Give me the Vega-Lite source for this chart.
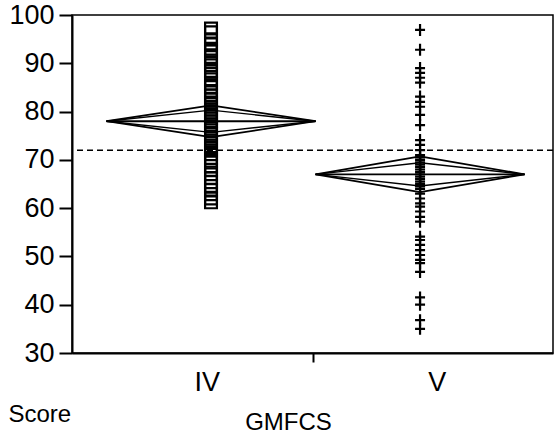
{
  "$schema": "https://vega.github.io/schema/vega-lite/v6.json",
  "width": 481,
  "height": 338,
  "autosize": "none",
  "padding": {"left": 72, "top": 15, "right": 2, "bottom": 82},
  "background": "white",
  "config": {
    "view": {"stroke": "#000", "strokeWidth": 1.5},
    "font": "Liberation Sans",
    "axis": {"grid": false, "domainColor": "#000", "domainWidth": 2, "tickColor": "#000", "tickWidth": 2, "labelColor": "#000", "titleColor": "#000", "labelFont": "Liberation Sans", "titleFont": "Liberation Sans", "titleFontWeight": "normal", "labelFontSize": 27, "titleFontSize": 24}
  },
  "datasets": {
    "points": [
      {"group": "IV", "score": 97.2}, {"group": "IV", "score": 96.4}, {"group": "IV", "score": 95.0}, {"group": "IV", "score": 94.1},
      {"group": "IV", "score": 93.0}, {"group": "IV", "score": 92.5}, {"group": "IV", "score": 91.3}, {"group": "IV", "score": 90.2},
      {"group": "IV", "score": 89.6}, {"group": "IV", "score": 88.4}, {"group": "IV", "score": 87.9}, {"group": "IV", "score": 86.7},
      {"group": "IV", "score": 85.8}, {"group": "IV", "score": 85.1}, {"group": "IV", "score": 84.0}, {"group": "IV", "score": 83.3},
      {"group": "IV", "score": 82.5}, {"group": "IV", "score": 81.9}, {"group": "IV", "score": 81.0}, {"group": "IV", "score": 80.4},
      {"group": "IV", "score": 79.8}, {"group": "IV", "score": 79.1}, {"group": "IV", "score": 78.6}, {"group": "IV", "score": 78.0},
      {"group": "IV", "score": 77.3}, {"group": "IV", "score": 76.9}, {"group": "IV", "score": 76.1}, {"group": "IV", "score": 75.4},
      {"group": "IV", "score": 74.8}, {"group": "IV", "score": 74.0}, {"group": "IV", "score": 73.5}, {"group": "IV", "score": 72.6},
      {"group": "IV", "score": 71.9}, {"group": "IV", "score": 71.2}, {"group": "IV", "score": 70.4}, {"group": "IV", "score": 69.8},
      {"group": "IV", "score": 68.7}, {"group": "IV", "score": 67.9}, {"group": "IV", "score": 67.0}, {"group": "IV", "score": 66.2},
      {"group": "IV", "score": 65.4}, {"group": "IV", "score": 64.6}, {"group": "IV", "score": 63.8}, {"group": "IV", "score": 62.9},
      {"group": "IV", "score": 62.0}, {"group": "IV", "score": 61.2},
      {"group": "V", "score": 96.9}, {"group": "V", "score": 92.8}, {"group": "V", "score": 89.0}, {"group": "V", "score": 88.0},
      {"group": "V", "score": 87.0}, {"group": "V", "score": 86.0}, {"group": "V", "score": 83.1}, {"group": "V", "score": 82.0},
      {"group": "V", "score": 81.0}, {"group": "V", "score": 79.3}, {"group": "V", "score": 77.2}, {"group": "V", "score": 74.1},
      {"group": "V", "score": 73.1}, {"group": "V", "score": 72.0}, {"group": "V", "score": 71.0}, {"group": "V", "score": 70.5},
      {"group": "V", "score": 70.0}, {"group": "V", "score": 69.5}, {"group": "V", "score": 69.0}, {"group": "V", "score": 68.5},
      {"group": "V", "score": 68.0}, {"group": "V", "score": 67.5}, {"group": "V", "score": 67.0}, {"group": "V", "score": 66.5},
      {"group": "V", "score": 66.0}, {"group": "V", "score": 65.5}, {"group": "V", "score": 65.0}, {"group": "V", "score": 64.5},
      {"group": "V", "score": 64.0}, {"group": "V", "score": 63.0}, {"group": "V", "score": 62.0}, {"group": "V", "score": 61.0},
      {"group": "V", "score": 60.3}, {"group": "V", "score": 59.3}, {"group": "V", "score": 58.2}, {"group": "V", "score": 57.2},
      {"group": "V", "score": 54.1}, {"group": "V", "score": 53.4}, {"group": "V", "score": 52.4}, {"group": "V", "score": 51.3},
      {"group": "V", "score": 50.3}, {"group": "V", "score": 49.3}, {"group": "V", "score": 48.6}, {"group": "V", "score": 46.8},
      {"group": "V", "score": 41.5}, {"group": "V", "score": 40.0}, {"group": "V", "score": 36.8}, {"group": "V", "score": 35.0}
    ],
    "diamonds": [
      {"group": "IV", "mean": 78.0, "lower": 74.7, "upper": 81.3, "ilow": 75.7, "iup": 80.3},
      {"group": "V", "mean": 67.0, "lower": 63.3, "upper": 70.7, "ilow": 64.6, "iup": 69.4}
    ],
    "grand": [{"mean": 72.0}]
  },
  "layer": [
    {
      "data": {"name": "points"},
      "transform": [{"calculate": "datum.group === 'IV' ? 1 : 2", "as": "xc"}],
      "mark": {"type": "point", "filled": false, "strokeWidth": 2.2, "opacity": 1},
      "encoding": {
        "x": {"field": "xc", "type": "quantitative", "title": "GMFCS",
          "scale": {"domain": [0.335, 2.636], "nice": false, "zero": false},
          "axis": {"values": [0.98, 1.49, 2.08], "labelExpr": "datum.value < 1.2 ? 'IV' : (datum.value > 1.8 ? 'V' : '')",
            "tickSize": 9, "labelPadding": 20, "labelBaseline": "middle", "labelFlush": false,
            "tickOpacity": {"condition": {"test": "datum.value > 1.2 && datum.value < 1.8", "value": 1}, "value": 0},
            "titleX": 216, "titleY": 69, "titleAlign": "center", "titleBaseline": "middle"}},
        "y": {"field": "score", "type": "quantitative", "title": "Score",
          "scale": {"domain": [30, 100], "nice": false, "zero": false},
          "axis": {"values": [30, 40, 50, 60, 70, 80, 90, 100], "tickSize": 13, "labelPadding": 5, "labelFlush": false,
            "titleAngle": 0, "titleX": -64, "titleY": 399, "titleAlign": "left", "titleBaseline": "middle"}},
        "shape": {"field": "group", "type": "nominal", "legend": null, "scale": {"domain": ["IV", "V"], "range": ["square", "M-1,0H1M0,-1.2V1.2"]}},
        "size": {"field": "group", "type": "nominal", "legend": null, "scale": {"domain": ["IV", "V"], "range": [140, 100]}},
        "color": {"value": "#000"}
      }
    },
    {
      "data": {"name": "grand"},
      "mark": {"type": "rule", "color": "#000", "strokeWidth": 1.6, "strokeDash": [6, 4]},
      "encoding": {"y": {"field": "mean", "type": "quantitative"}}
    },
    {
      "data": {"name": "diamonds"},
      "transform": [
        {"calculate": "datum.group === 'IV' ? 1 : 2", "as": "xc"},
        {"calculate": "datum.xc - 0.5", "as": "xl"},
        {"calculate": "datum.xc + 0.5", "as": "xr"}
      ],
      "layer": [
        {"mark": {"type": "rule", "color": "#000", "strokeWidth": 1.8}, "encoding": {"x": {"field": "xl", "type": "quantitative"}, "x2": {"field": "xc"}, "y": {"field": "mean", "type": "quantitative"}, "y2": {"field": "upper"}}},
        {"mark": {"type": "rule", "color": "#000", "strokeWidth": 1.8}, "encoding": {"x": {"field": "xc", "type": "quantitative"}, "x2": {"field": "xr"}, "y": {"field": "upper", "type": "quantitative"}, "y2": {"field": "mean"}}},
        {"mark": {"type": "rule", "color": "#000", "strokeWidth": 1.8}, "encoding": {"x": {"field": "xl", "type": "quantitative"}, "x2": {"field": "xc"}, "y": {"field": "mean", "type": "quantitative"}, "y2": {"field": "lower"}}},
        {"mark": {"type": "rule", "color": "#000", "strokeWidth": 1.8}, "encoding": {"x": {"field": "xc", "type": "quantitative"}, "x2": {"field": "xr"}, "y": {"field": "lower", "type": "quantitative"}, "y2": {"field": "mean"}}},
        {"mark": {"type": "rule", "color": "#000", "strokeWidth": 1.4}, "encoding": {"x": {"field": "xl", "type": "quantitative"}, "x2": {"field": "xc"}, "y": {"field": "mean", "type": "quantitative"}, "y2": {"field": "iup"}}},
        {"mark": {"type": "rule", "color": "#000", "strokeWidth": 1.4}, "encoding": {"x": {"field": "xc", "type": "quantitative"}, "x2": {"field": "xr"}, "y": {"field": "iup", "type": "quantitative"}, "y2": {"field": "mean"}}},
        {"mark": {"type": "rule", "color": "#000", "strokeWidth": 1.4}, "encoding": {"x": {"field": "xl", "type": "quantitative"}, "x2": {"field": "xc"}, "y": {"field": "mean", "type": "quantitative"}, "y2": {"field": "ilow"}}},
        {"mark": {"type": "rule", "color": "#000", "strokeWidth": 1.4}, "encoding": {"x": {"field": "xc", "type": "quantitative"}, "x2": {"field": "xr"}, "y": {"field": "ilow", "type": "quantitative"}, "y2": {"field": "mean"}}},
        {"mark": {"type": "rule", "color": "#000", "strokeWidth": 1.8}, "encoding": {"x": {"field": "xl", "type": "quantitative"}, "x2": {"field": "xr"}, "y": {"field": "mean", "type": "quantitative"}}}
      ]
    }
  ]
}
